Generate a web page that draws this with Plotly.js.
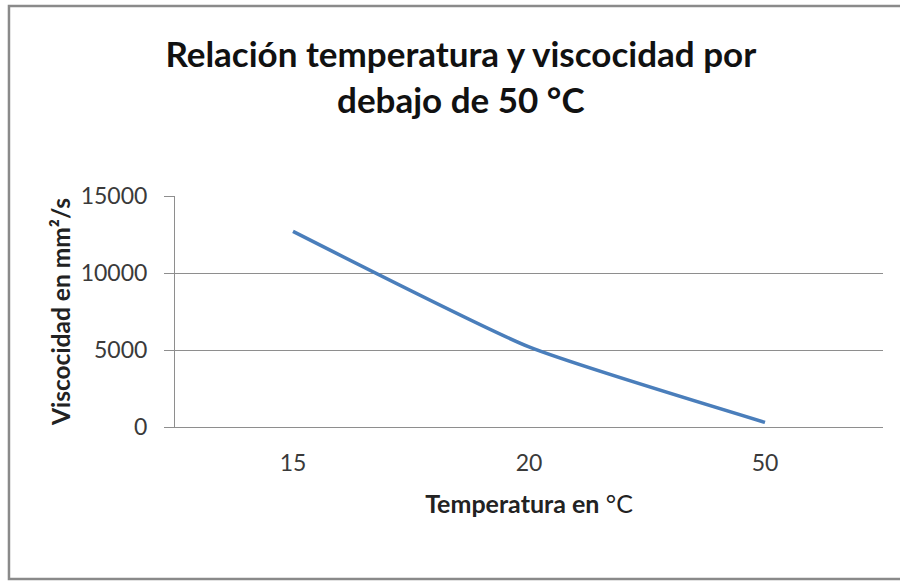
<!DOCTYPE html>
<html>
<head>
<meta charset="utf-8">
<script src="https://cdn.plot.ly/plotly-3.0.1.min.js"></script>
<style>
html,body{margin:0;padding:0;background:#fff;}
#chart{width:900px;height:581px;}
</style>
</head>
<body>
<div id="chart"></div>
<script>
// Data
const temperaturas = ['15', '20', '50'];
const viscosidad = [12700, 5200, 300];
const yTicks = [0, 5000, 10000, 15000];

const FONT = 'Lato, "Open Sans", sans-serif';
const GRID = '#8e8e8e';

const trace = {
  type: 'scatter',
  mode: 'lines',
  x: temperaturas,
  y: viscosidad,
  line: {color: '#4a7ebb', width: 3.5, shape: 'spline', smoothing: 0.5},
  hoverinfo: 'x+y'
};

const layout = {
  width: 900,
  height: 581,
  margin: {l: 175, r: 17, t: 196, b: 154},
  paper_bgcolor: '#ffffff',
  plot_bgcolor: '#ffffff',
  showlegend: false,
  font: {family: FONT, color: '#3a3a3a'},
  title: {
    text: '<b>Relación temperatura y viscocidad por<br>debajo de 50 °C</b>',
    font: {family: FONT, size: 35, color: '#111111'},
    x: 0.512, xanchor: 'center', xref: 'container',
    y: 0.884, yanchor: 'middle', yref: 'container'
  },
  xaxis: {
    type: 'category',
    range: [-0.5, 2.5],
    showgrid: false,
    showline: true,
    linecolor: GRID,
    linewidth: 1,
    ticks: '',
    tickfont: {family: FONT, size: 23, color: '#3a3a3a'},
    ticklabelstandoff: 15,
    fixedrange: true,
    title: {
      text: '<b>Temperatura en</b> °C',
      font: {family: FONT, size: 25, color: '#222222'},
      standoff: 20
    }
  },
  yaxis: {
    range: [0, 15000],
    tickvals: yTicks,
    ticktext: yTicks.map(String),
    showgrid: true,
    gridcolor: GRID,
    gridwidth: 1,
    zeroline: false,
    showline: true,
    linecolor: GRID,
    linewidth: 1,
    ticks: 'outside',
    ticklen: 10,
    tickcolor: GRID,
    tickfont: {family: FONT, size: 23, color: '#3a3a3a'},
    ticklabelstandoff: 12,
    fixedrange: true,
    title: {
      text: '<b>Viscocidad en mm²/s</b>',
      font: {family: FONT, size: 24.5, color: '#222222'},
      standoff: 3
    }
  },
  shapes: [{
    type: 'rect', xref: 'paper', yref: 'paper',
    x0: -0.2345, x1: 1.035, y0: -0.658, y1: 1.8225,
    line: {color: '#8a8a8a', width: 2.5},
    layer: 'below'
  }]
};

Plotly.newPlot('chart', [trace], layout, {displayModeBar: false});
</script>
</body>
</html>
